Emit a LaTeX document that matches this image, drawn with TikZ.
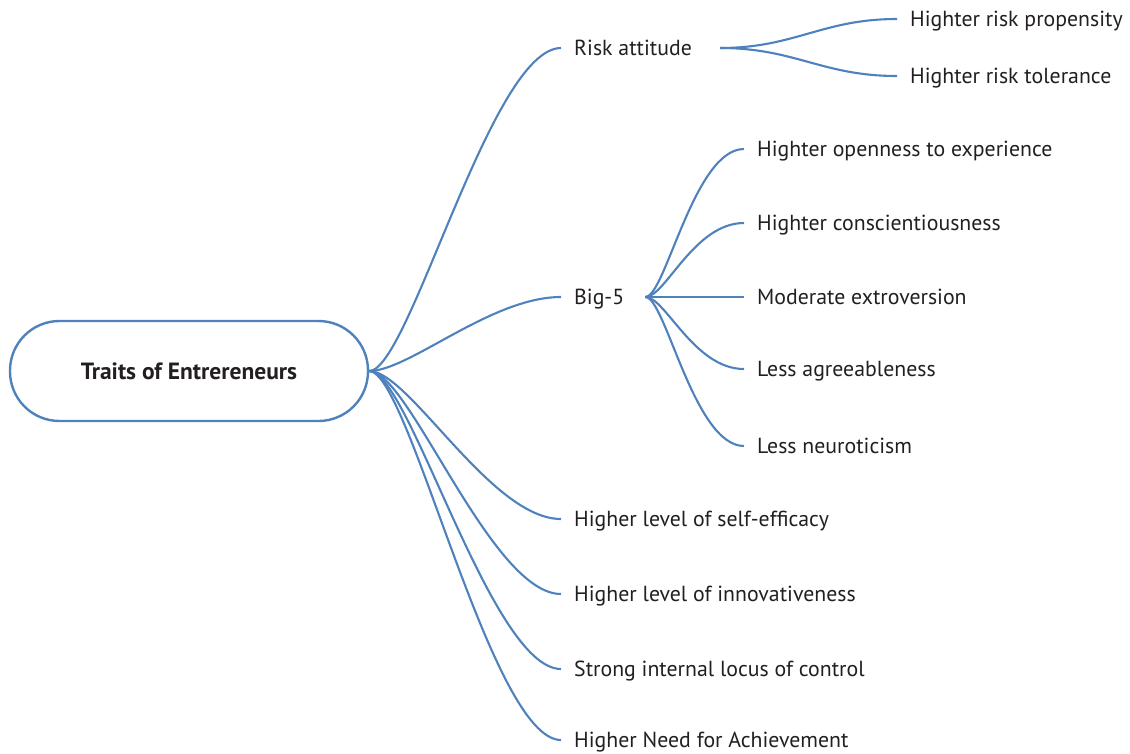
\documentclass[tikz,border=0pt]{standalone}
\usepackage{fontspec}
\setmainfont{PT Sans}
\definecolor{branch}{RGB}{79,129,189}
\definecolor{ink}{RGB}{35,31,32}
\tikzset{
  leaf/.style={anchor=west, inner xsep=13pt, inner ysep=2pt, text depth=0pt, text=ink, font=\fontsize{21.8}{24}\selectfont},
  link/.style={draw=branch, line width=2.1pt},
}

\begin{document}
\begin{tikzpicture}[x=1pt,y=-1pt]
  \useasboundingbox (0,0) rectangle (1130,753);
  \node[draw=branch, line width=2.4pt, rounded corners=49.5pt, minimum width=358pt, minimum height=100pt, text depth=0pt, text=ink, font=\bfseries\fontsize{23.5}{26}\selectfont] (root) at (189,371) {Traits of Entrereneurs};

  % first level
  \node[leaf] (risk) at (561,48) {Risk attitude};
  \node[leaf] (big) at (561,297) {Big-5};
  \node[leaf] (eff) at (561,519) {Higher level of self-efficacy};
  \node[leaf] (inno) at (561,594) {Higher level of innovativeness};
  \node[leaf] (locus) at (561,669) {Strong internal locus of control};
  \node[leaf] (ach) at (561,740) {Higher Need for Achievement};

  % risk attitude
  \node[leaf] (prop) at (897,19) {Highter risk propensity};
  \node[leaf] (tol) at (897,76) {Highter risk tolerance};

  % big-5
  \node[leaf] (open) at (744,149) {Highter openness to experience};
  \node[leaf] (consc) at (744,223) {Highter conscientiousness};
  \node[leaf] (extra) at (744,297) {Moderate extroversion};
  \node[leaf] (agree) at (744,369) {Less agreeableness};
  \node[leaf] (neuro) at (744,446) {Less neuroticism};

  \foreach \n in {risk, big, eff, inno, locus, ach}
    \draw[link] (root.east) .. controls +(40,0) and +(-70,0) .. (\n.west);
  \foreach \n in {prop, tol}
    \draw[link] ([xshift=15pt]risk.east) .. controls +(75,0) and +(-75,0) .. (\n.west);
  \foreach \n in {open, consc, extra, agree, neuro}
    \draw[link] ([xshift=8pt]big.east) .. controls +(20,0) and +(-50,0) .. (\n.west);
\end{tikzpicture}
\end{document}
